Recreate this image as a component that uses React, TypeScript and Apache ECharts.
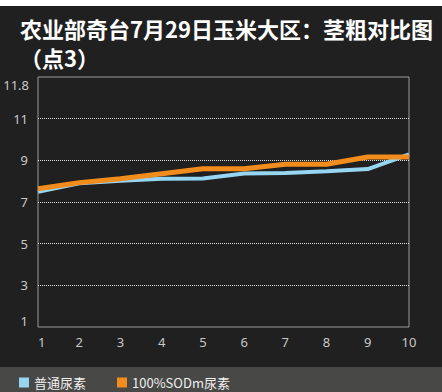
import React, { useEffect, useRef } from "react";
import * as echarts from "echarts";

const categories = ["1", "2", "3", "4", "5", "6", "7", "8", "9", "10"];
const seriesNames = ["普通尿素", "100%SODm尿素"];
const ureaValues = [7.49, 7.9, 8.02, 8.12, 8.13, 8.37, 8.39, 8.48, 8.58, 9.29];
const sodValues = [7.64, 7.93, 8.12, 8.36, 8.6, 8.6, 8.81, 8.81, 9.16, 9.16];
const yTopLabel = "11.8";
const titleText = "农业部奇台7月29日玉米大区：茎粗对比图\n（点3）";

export default function App() {
  const ref = useRef<HTMLDivElement>(null);
  useEffect(() => {
    if (!ref.current) return;
    const chart = echarts.init(ref.current, undefined, { renderer: "svg" });
    chart.setOption({
      animation: false,
      backgroundColor: "#202020",
      title: {
        text: titleText,
        left: 20,
        top: 13,
        padding: 0,
        textStyle: {
          color: "#ffffff",
          fontSize: 22,
          fontWeight: "bold",
          fontFamily: "Noto Sans CJK SC",
          lineHeight: 29,
        },
      },
      graphic: [
        { type: "rect", left: 0, top: 0, shape: { x: 0, y: 0, width: 442, height: 6 }, style: { fill: "#ffffff" } },
        { type: "rect", left: 0, top: 367, shape: { x: 0, y: 0, width: 442, height: 25 }, style: { fill: "#484946" } },
        {
          type: "text",
          right: 442 - 29,
          top: 78,
          style: { text: yTopLabel, fill: "#c8c8c8", font: "13px 'Noto Sans'" },
        },
      ],
      legend: {
        data: seriesNames,
        left: 19,
        top: 376,
        itemWidth: 10,
        itemHeight: 10,
        itemGap: 31,
        icon: "rect",
        padding: 0,
        textStyle: { color: "#f0f0f0", fontSize: 13, fontFamily: "Noto Sans CJK SC" },
      },
      grid: {
        left: 38,
        right: 33,
        top: 77,
        bottom: 65,
        show: true,
        borderColor: "#9a9a9a",
        borderWidth: 1,
        backgroundColor: "transparent",
      },
      xAxis: {
        type: "category",
        data: categories,
        boundaryGap: false,
        axisLine: { show: false },
        axisTick: { show: false },
        splitLine: { show: false },
        axisLabel: {
          color: "#c8c8c8",
          fontSize: 13,
          fontFamily: "Noto Sans",
          margin: 8,
          alignMinLabel: "left",
        },
      },
      yAxis: {
        type: "value",
        min: 1,
        max: 13,
        interval: 2,
        axisLine: { show: false },
        axisTick: { show: false },
        axisLabel: {
          color: "#c8c8c8",
          fontSize: 13,
          fontFamily: "Noto Sans",
          margin: 10,
          verticalAlignMinLabel: "bottom",
          formatter: (v: number) => (v > 11 ? "" : String(v)),
        },
        splitLine: {
          show: true,
          showMinLine: false,
          showMaxLine: false,
          lineStyle: { color: "#e0e0e0", type: "dotted", width: 1 },
        },
      },
      series: [
        {
          name: seriesNames[0],
          type: "line",
          data: ureaValues,
          symbol: "none",
          itemStyle: { color: "#97d6f2" },
          lineStyle: { color: "#97d6f2", width: 4 },
        },
        {
          name: seriesNames[1],
          type: "line",
          data: sodValues,
          symbol: "none",
          itemStyle: { color: "#f28c1c" },
          lineStyle: { color: "#f28c1c", width: 5 },
        },
      ],
    });
    return () => chart.dispose();
  }, []);
  return (
    <div
      ref={ref}
      style={{ position: "fixed", left: 0, top: 0, width: 442, height: 392, background: "#ffffff" }}
    />
  );
}
